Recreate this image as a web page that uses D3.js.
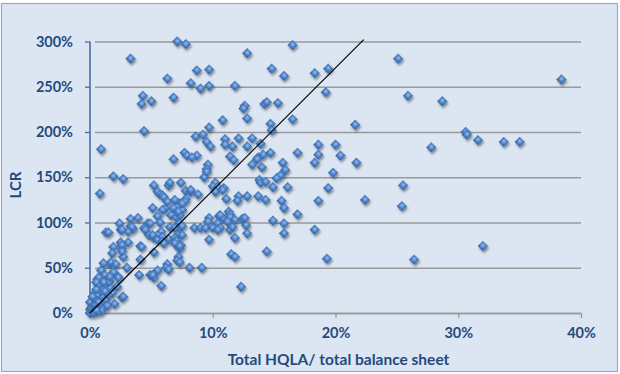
<!DOCTYPE html>
<html>
<head>
<meta charset="utf-8">
<script src="https://cdn.jsdelivr.net/npm/d3@7"></script>
<style>
  html, body { margin: 0; padding: 0; background: #ffffff; }
  svg { display: block; }
  text { font-family: Lato, "Open Sans", "DejaVu Sans", sans-serif; font-weight: 700; fill: #244a7e; }
</style>
</head>
<body>
<svg id="chart" width="620" height="374"></svg>
<script>
// HQLA share of balance sheet (%) and LCR (%) per bank
const hqlaShare = [
  7.1,7.8,16.5,12.8,3.3,25.1,8.7,9.7,14.8,19.4,18.3,15.8,6.3,38.4,8.2,9.0,9.7,11.8,19.2,25.9,
  4.3,6.8,5.0,4.2,28.7,14.2,14.4,15.3,12.6,12.5,12.8,16.5,10.8,14.7,21.6,9.7,14.8,4.4,
  30.6,30.7,31.6,33.7,35.0,27.8,8.6,9.2,11.0,12.1,13.2,9.5,11.0,9.8,11.6,12.8,13.9,18.6,20.0,0.9,
  7.7,7.9,8.7,8.3,11.4,11.7,13.7,14.1,14.7,16.9,18.6,20.4,6.8,13.6,
  9.6,13.2,15.7,18.3,21.7,14.0,9.5,15.9,19.8,1.9,15.5,15.2,2.7,9.3,
  13.8,13.9,5.2,6.4,7.4,10.2,25.5,14.3,10.0,10.4,10.9,14.9,16.1,19.4,
  0.8,5.5,7.8,8.2,8.8,5.7,5.9,6.0,7.8,12.1,12.8,13.7,11.1,12.0,14.3,18.6,22.4,15.6,6.3,7.7,7.3,
  25.4,5.1,7.1,15.8,6.1,5.9,7.5,11.3,11.4,6.9,10.5,10.8,16.9,5.5,6.6,7.0,7.3,3.3,3.9,9.7,12.4,10.6,11.4,14.9,9.6,
  2.4,4.7,5.7,15.8,11.2,10.4,4.9,7.3,
  6.5,7.2,7.5,12.7,3.3,3.5,4.4,2.5,8.5,9.0,9.4,10.0,10.6,10.4,11.4,6.9,1.3,5.8,5.5,4.8,12.8,15.8,18.3,7.2,11.8,5.2,6.4,9.7,6.9,7.5,3.1,3.4,4.5,2.6,1.5,5.1,5.5,5.9,
  2.5,3.1,5.9,7.0,7.4,7.3,4.1,14.4,32.0,2.6,1.9,2.6,6.0,6.9,7.3,4.2,1.8,5.2,11.5,11.8,2.7,2.6,7.2,19.3,26.4,
  7.1,4.1,1.6,6.3,6.2,8.1,9.1,3.0,0.9,5.5,4.9,4.0,5.2,2.3,1.7,1.1,7.3,6.4,5.1,1.2,1.9,2.1,
  0.6,1.6,5.8,12.3,2.6,2.0,1.3,0.8,0.4,1.2,0.7,0.2,1.0,0.4,0.0,0.1,
  0.0,0.2,0.3,0.1,0.5,0.2,0.0,0.6,0.4,0.8,1.0,1.2,2.7,1.1,1.6,0.7,2.2,1.5,2.3,0.7,1.6,1.0,0.6,0.3,0.9,1.3,1.8,0.5,1.4,0.2,0.7,1.1,0.5,1.5,0.9,0.3,0.6,0.5,1.2,
  6.5,8.2,10.2,10.8,6.9,7.5,6.8,7.2,11.8,12.6,11.6,9.5
];
const lcrValue = [
  300,297,296,287,281,281,268,269,270,270,265,262,259,258,254,248,251,251,244,240,
  240,238,234,231,234,231,233,232,229,226,215,214,213,209,208,205,202,201,
  200,197,191,189,189,183,195,197,192,193,193,189,186,184,184,184,187,186,186,181,
  177,174,174,172,173,169,172,175,177,177,175,174,170,170,
  164,164,166,166,166,161,159,158,155,151,152,149,148,150,
  147,144,141,141,144,144,141,145,140,139,138,139,139,138,
  132,134,135,134,131,131,130,128,126,129,129,129,126,124,125,124,125,124,123,123,121,
  118,116,117,116,115,114,114,112,109,110,107,105,109,107,108,106,108,104,105,105,104,108,106,102,101,
  99,99,100,99,101,99,99,99,
  95,94,96,97,96,93,94,92,94,94,94,94,94,92,92,94,89,90,86,86,88,88,92,86,83,83,82,81,83,86,90,95,92,92,89,86,81,84,
  78,78,79,80,75,71,74,68,74,71,73,75,77,77,74,73,66,67,65,62,62,68,62,60,59,
  58,59,54,54,50,50,50,50,47,47,42,42,39,40,56,55,56,48,42,42,45,54,
  37,35,30,29,17,10,29,26,22,18,15,13,9,7,4,1,
  0,1,4,6,6,9,12,14,10,8,18,11,18,28,28,31,29,34,39,39,40,5,20,16,24,15,22,26,8,18,12,34,34,20,2,0,1,3,24,
  144,136,134,136,125,121,116,112,103,105,95,156
];
const xTicks = [0, 10, 20, 30, 40];
const yTicks = [0, 50, 100, 150, 200, 250, 300];
const xTitle = "Total HQLA/ total balance sheet";
const yTitle = "LCR";
// Reference line through the origin
const refLine = [[0, 0], [22.3, 302]];

const points = hqlaShare.map((v, i) => ({ x: v, y: lcrValue[i] }));

const svg = d3.select("#chart");
const W = 620, H = 374;
const plot = { left: 90, right: 581, top: 41.5, bottom: 313 };

const x = d3.scaleLinear().domain([0, 40]).range([plot.left, plot.right]);
const y = d3.scaleLinear().domain([0, 300]).range([plot.bottom, plot.top]);

const defs = svg.append("defs");
const grad = defs.append("radialGradient").attr("id", "mk")
  .attr("cx", "45%").attr("cy", "40%").attr("r", "65%");
grad.append("stop").attr("offset", "0%").attr("stop-color", "#9cc0ec");
grad.append("stop").attr("offset", "45%").attr("stop-color", "#5a8ed0");
grad.append("stop").attr("offset", "100%").attr("stop-color", "#3565a6");
const sh = defs.append("filter").attr("id", "shadow")
  .attr("x", "-60%").attr("y", "-60%").attr("width", "220%").attr("height", "220%");
sh.append("feDropShadow").attr("dx", 1.2).attr("dy", 2.2).attr("stdDeviation", 1.3)
  .attr("flood-color", "#000").attr("flood-opacity", 0.4);

// Chart area background and border
svg.append("rect").attr("x", 1.5).attr("y", 3.5).attr("width", W - 4).attr("height", H - 6)
  .attr("fill", "#dce6f2").attr("stroke", "#8eabd6").attr("stroke-width", 1.2);

// Horizontal gridlines with small left ticks
svg.append("g").attr("transform", `translate(${plot.left},0)`)
  .call(d3.axisLeft(y).tickValues(yTicks).tickSize(-(plot.right - plot.left)).tickFormat(""))
  .call(g => g.select(".domain").remove())
  .call(g => g.selectAll("line").attr("stroke", "#999999").attr("stroke-width", 1.3).attr("x1", 5));
svg.append("g").attr("transform", `translate(${plot.left},0)`)
  .call(d3.axisLeft(y).tickValues(yTicks).tickSize(5).tickFormat(""))
  .call(g => g.select(".domain").remove())
  .call(g => g.selectAll("line").attr("stroke", "#4a6ea5").attr("stroke-width", 1.3));

// X axis
const gx = svg.append("g").attr("transform", `translate(0,${plot.bottom})`)
  .call(d3.axisBottom(x).tickValues(xTicks).tickSize(5).tickSizeOuter(0).tickFormat(d => d + "%"));
gx.select(".domain").attr("stroke", "#999999").attr("stroke-width", 1.3);
gx.selectAll("line").attr("stroke", "#999999").attr("stroke-width", 1.3);
gx.selectAll("text").attr("y", 15).attr("dy", "0.71em")
  .style("font-size", "14.5px").attr("fill", "#244a7e");

// Y axis line and labels
svg.append("line").attr("x1", plot.left).attr("x2", plot.left)
  .attr("y1", plot.top).attr("y2", plot.bottom)
  .attr("stroke", "#4a6ea5").attr("stroke-width", 1.6);
svg.append("g").selectAll("text").data(yTicks).join("text")
  .attr("x", 73).attr("y", d => y(d)).attr("dy", "0.36em")
  .attr("text-anchor", "end").style("font-size", "14.5px")
  .text(d => d + "%");

// Points
svg.append("g").attr("filter", "url(#shadow)")
  .selectAll("path").data(points).join("path")
  .attr("d", d3.symbol(d3.symbolSquare, 48))
  .attr("transform", d => `translate(${x(d.x)},${y(d.y)}) rotate(45)`)
  .attr("fill", "url(#mk)")
  .attr("stroke", "#3a6cae").attr("stroke-width", 0.4);

// Reference line
svg.append("path").datum(refLine)
  .attr("d", d3.line().x(d => x(d[0])).y(d => y(d[1])))
  .attr("stroke", "#000").attr("stroke-width", 1.2).attr("fill", "none");

// Axis titles
svg.append("text").attr("x", (plot.left + plot.right) / 2 + 3).attr("y", 365)
  .attr("text-anchor", "middle").style("font-size", "15.5px").text(xTitle);
svg.append("text").attr("transform", "translate(21,185) rotate(-90)")
  .attr("text-anchor", "middle").style("font-size", "15px").text(yTitle);
</script>
</body>
</html>
